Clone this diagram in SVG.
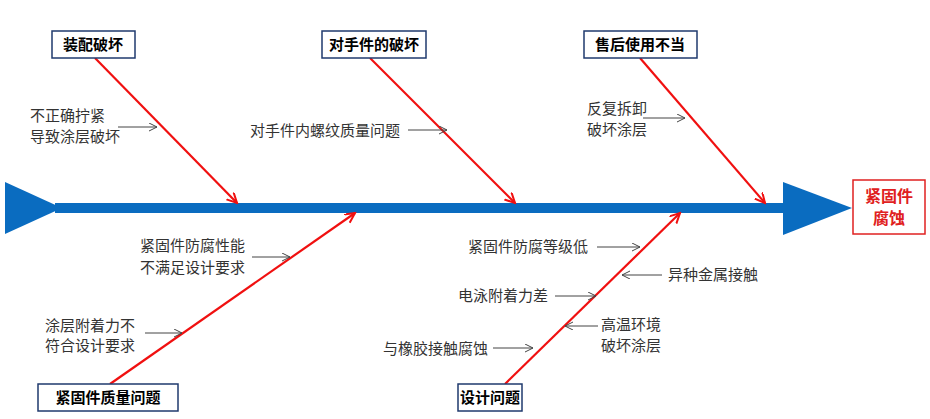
<svg xmlns="http://www.w3.org/2000/svg" width="930" height="419" viewBox="0 0 930 419">
<style>
text{font-family:"Noto Sans CJK SC","Liberation Sans",sans-serif;font-size:15px;fill:#333}
.lb rect{fill:#fff;stroke:#1f3a6e;stroke-width:1.5}
.lb text{font-weight:bold;fill:#000}
.r{stroke:#f01010;stroke-width:2.2;fill:none;marker-end:url(#ra)}
.k{stroke:#444;stroke-width:1;fill:none;marker-end:url(#ka)}
</style>
<defs>
<marker id="ra" markerWidth="12" markerHeight="12" refX="10" refY="5" orient="auto" markerUnits="userSpaceOnUse"><path d="M0,0 L10,5 L0,10" fill="none" stroke="#f01010" stroke-width="2"/></marker>
<marker id="ka" markerWidth="10" markerHeight="10" refX="8" refY="4" orient="auto" markerUnits="userSpaceOnUse"><path d="M0,0 L8,4 L0,8" fill="none" stroke="#444" stroke-width="1"/></marker>
</defs>
<g id="spine">
<polygon points="5,182 62,208 5,234" fill="#0a6cc0"/>
<rect x="55" y="203" width="735" height="10" fill="#0a6cc0"/>
<polygon points="783,182 852,208 783,235" fill="#0a6cc0"/>
</g>
<g id="head"><rect x="853" y="180" width="72" height="54" fill="#fff" stroke="#e02020" stroke-width="1.5"/>
<text x="889" y="202" text-anchor="middle" style="fill:#e02020;font-size:16px;font-weight:bold">紧固件</text>
<text x="889" y="224" text-anchor="middle" style="fill:#e02020;font-size:16px;font-weight:bold">腐蚀</text></g>
<g id="connectors">
<path class="r" d="M95,58 L237,203"/>
<path class="r" d="M370,58 L515,203"/>
<path class="r" d="M640,58 L765,203"/>
<path class="r" d="M110,384 L355,213"/>
<path class="r" d="M505,384 L680,213"/>
<path class="k" d="M118,127 L157,127"/>
<path class="k" d="M408,130 L447,130"/>
<path class="k" d="M643,118 L685,118"/>
<path class="k" d="M252,257 L290,257"/>
<path class="k" d="M145,333 L182,333"/>
<path class="k" d="M597,247 L640,247"/>
<path class="k" d="M662,275 L622,275"/>
<path class="k" d="M555,296 L596,296"/>
<path class="k" d="M598,326 L565,326"/>
<path class="k" d="M493,348 L533,348"/>
</g>
<g id="n1" class="lb"><rect x="52" y="31" width="83" height="27"/><text x="93" y="50" text-anchor="middle">装配破坏</text></g>
<g id="n2" class="lb"><rect x="322" y="31" width="104" height="27"/><text x="374" y="50" text-anchor="middle">对手件的破坏</text></g>
<g id="n3" class="lb"><rect x="584" y="31" width="113" height="27"/><text x="640" y="50" text-anchor="middle">售后使用不当</text></g>
<g id="n4" class="lb"><rect x="38" y="384" width="140" height="27"/><text x="108" y="403" text-anchor="middle">紧固件质量问题</text></g>
<g id="n5" class="lb"><rect x="458" y="384" width="64" height="27"/><text x="490" y="403" text-anchor="middle">设计问题</text></g>
<g id="causes">
<text x="30" y="121">不正确拧紧</text><text x="30" y="142">导致涂层破坏</text>
<text x="250" y="136">对手件内螺纹质量问题</text>
<text x="587" y="114">反复拆卸</text><text x="587" y="135">破坏涂层</text>
<text x="140" y="251">紧固件防腐性能</text><text x="140" y="273">不满足设计要求</text>
<text x="45" y="331">涂层附着力不</text><text x="45" y="351">符合设计要求</text>
<text x="468" y="252">紧固件防腐等级低</text>
<text x="668" y="280">异种金属接触</text>
<text x="458" y="301">电泳附着力差</text>
<text x="601" y="330">高温环境</text><text x="601" y="351">破坏涂层</text>
<text x="383" y="354">与橡胶接触腐蚀</text>
</g>
</svg>
